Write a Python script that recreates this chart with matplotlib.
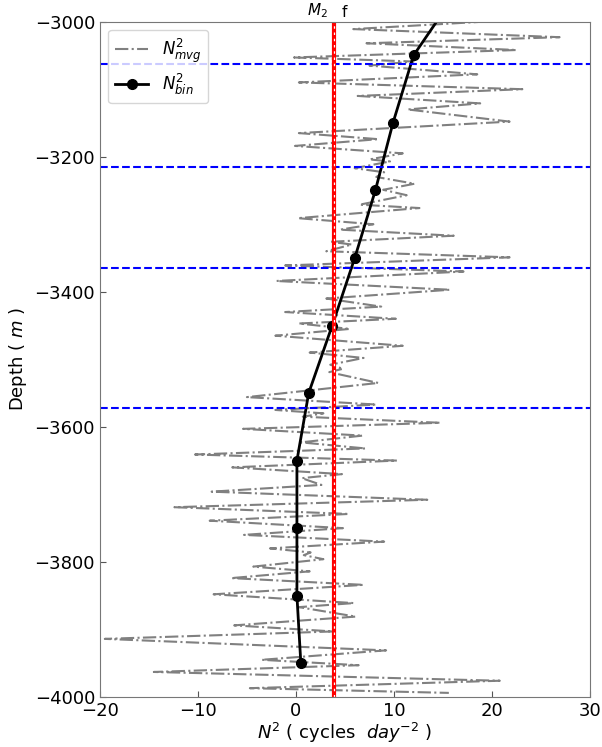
"""
Buoyancy frequency profile: moving average and binned N^2 against depth.
"""
import matplotlib.pyplot as plt
from matplotlib.transforms import blended_transform_factory

# moving-average N^2 profile (cycles^2 / day^2), turning points
mvg_depth = [-2996, -3011, -3023, -3032, -3042, -3053, -3059, -3065, -3078,
             -3090, -3100, -3110, -3121, -3130, -3148, -3165, -3174, -3184,
             -3195, -3204, -3207, -3217, -3223, -3230, -3240, -3249, -3257,
             -3271, -3276, -3291, -3300, -3308, -3317, -3326, -3330, -3340,
             -3349, -3361, -3370, -3384, -3397, -3410, -3422, -3430, -3440,
             -3447, -3455, -3465, -3480, -3490, -3498, -3508, -3514, -3519,
             -3535, -3556, -3567, -3575, -3580, -3585, -3594, -3603, -3613,
             -3623, -3632, -3641, -3650, -3660, -3670, -3676, -3686, -3696,
             -3708, -3719, -3729, -3739, -3750, -3760, -3770, -3780, -3786,
             -3790, -3796, -3807, -3814, -3824, -3834, -3848, -3861, -3867,
             -3881, -3894, -3903, -3914, -3931, -3945, -3953, -3963, -3976,
             -3987, -3994]
mvg_n2 = [24.0, 5.85, 26.9, 7.2, 22.5, -0.2, 12.0, 7.5, 18.5,
          0.3, 23.1, 6.3, 18.8, 11.4, 21.8, 0.3, 8.4, -0.1,
          10.9, 7.5, 9.6, 6.0, 9.0, 8.2, 12.1, 8.9, 11.3,
          6.5, 12.6, 0.2, 7.9, 4.5, 16.1, 3.5, 5.7, 3.1,
          21.8, -1.1, 17.1, -2.0, 15.7, 3.1, 8.7, -1.1, 10.2,
          0.3, 5.5, -2.1, 10.9, 1.4, 6.9, 3.5, 4.8, 3.4,
          8.4, -5.0, 8.2, -2.1, 2.8, 0.7, 14.7, -5.4, 6.8,
          0.5, 7.1, -10.3, 10.3, -6.5, 4.7, 0.6, 2.6, -8.6,
          13.4, -12.4, 5.4, -8.8, 4.8, -5.3, 9.0, -2.65, 1.5,
          0.8, 2.8, -4.35, 1.4, -6.6, 6.9, -8.4, 5.9, 0.3,
          6.1, -6.3, 3.8, -19.5, 9.2, -3.5, 6.4, -14.5, 20.8,
          -4.7, 15.6]

# binned N^2 (100 m bins)
bin_depth = [-2950, -3050, -3150, -3250, -3350, -3450, -3550, -3650, -3750,
             -3850, -3950]
bin_n2 = [16.7, 12.0, 9.9, 8.1, 6.0, 3.7, 1.3, 0.1, 0.1, 0.1, 0.5]

# layer boundaries and tidal / inertial frequency squared
layer_depths = [-3063, -3215, -3365, -3572]
m2_f_n2 = 3.85

fig = plt.figure(figsize=(6.02, 7.47), dpi=100)
ax = fig.add_subplot(111)
fig.subplots_adjust(left=0.166, right=0.98, top=0.971, bottom=0.067)

ax.plot(mvg_n2, mvg_depth, '-.', color='gray', lw=1.5,
        label=r'$N^2_{mvg}$')
ax.plot(bin_n2, bin_depth, '-o', color='black', lw=2, markersize=7,
        label=r'$N^2_{bin}$')

for depth in layer_depths:
    ax.axhline(depth, color='blue', ls='--', lw=1.5)

ax.axvline(m2_f_n2, color='red', lw=3)
ax.axvline(m2_f_n2, color='white', ls=(0, (2, 3)), lw=0.9)

trans = blended_transform_factory(ax.transData, ax.transAxes)
ax.text(m2_f_n2 - 0.55, 1.002, r'$M_2$', transform=trans, ha='right',
        va='bottom', fontsize=11)
ax.text(m2_f_n2 + 0.85, 1.002, 'f', transform=trans, ha='left',
        va='bottom', fontsize=11)

ax.set_xlim(-20, 30)
ax.set_ylim(-4000, -3000)
ax.set_xticks([-20, -10, 0, 10, 20, 30])
ax.set_yticks([-4000, -3800, -3600, -3400, -3200, -3000])
ax.tick_params(direction='in', labelsize=13, length=4, color='#555555')
for spine in ax.spines.values():
    spine.set_color('#777777')

ax.set_xlabel(r'$N^2$ ( cycles  $day^{-2}$ )', fontsize=13, labelpad=1)
ax.set_ylabel(r'Depth ( $m$ )', fontsize=13)
ax.legend(loc='upper left', fontsize=12, handlelength=2.0,
          borderpad=0.4, labelspacing=0.4, handletextpad=0.8)

fig.savefig('out.png')
